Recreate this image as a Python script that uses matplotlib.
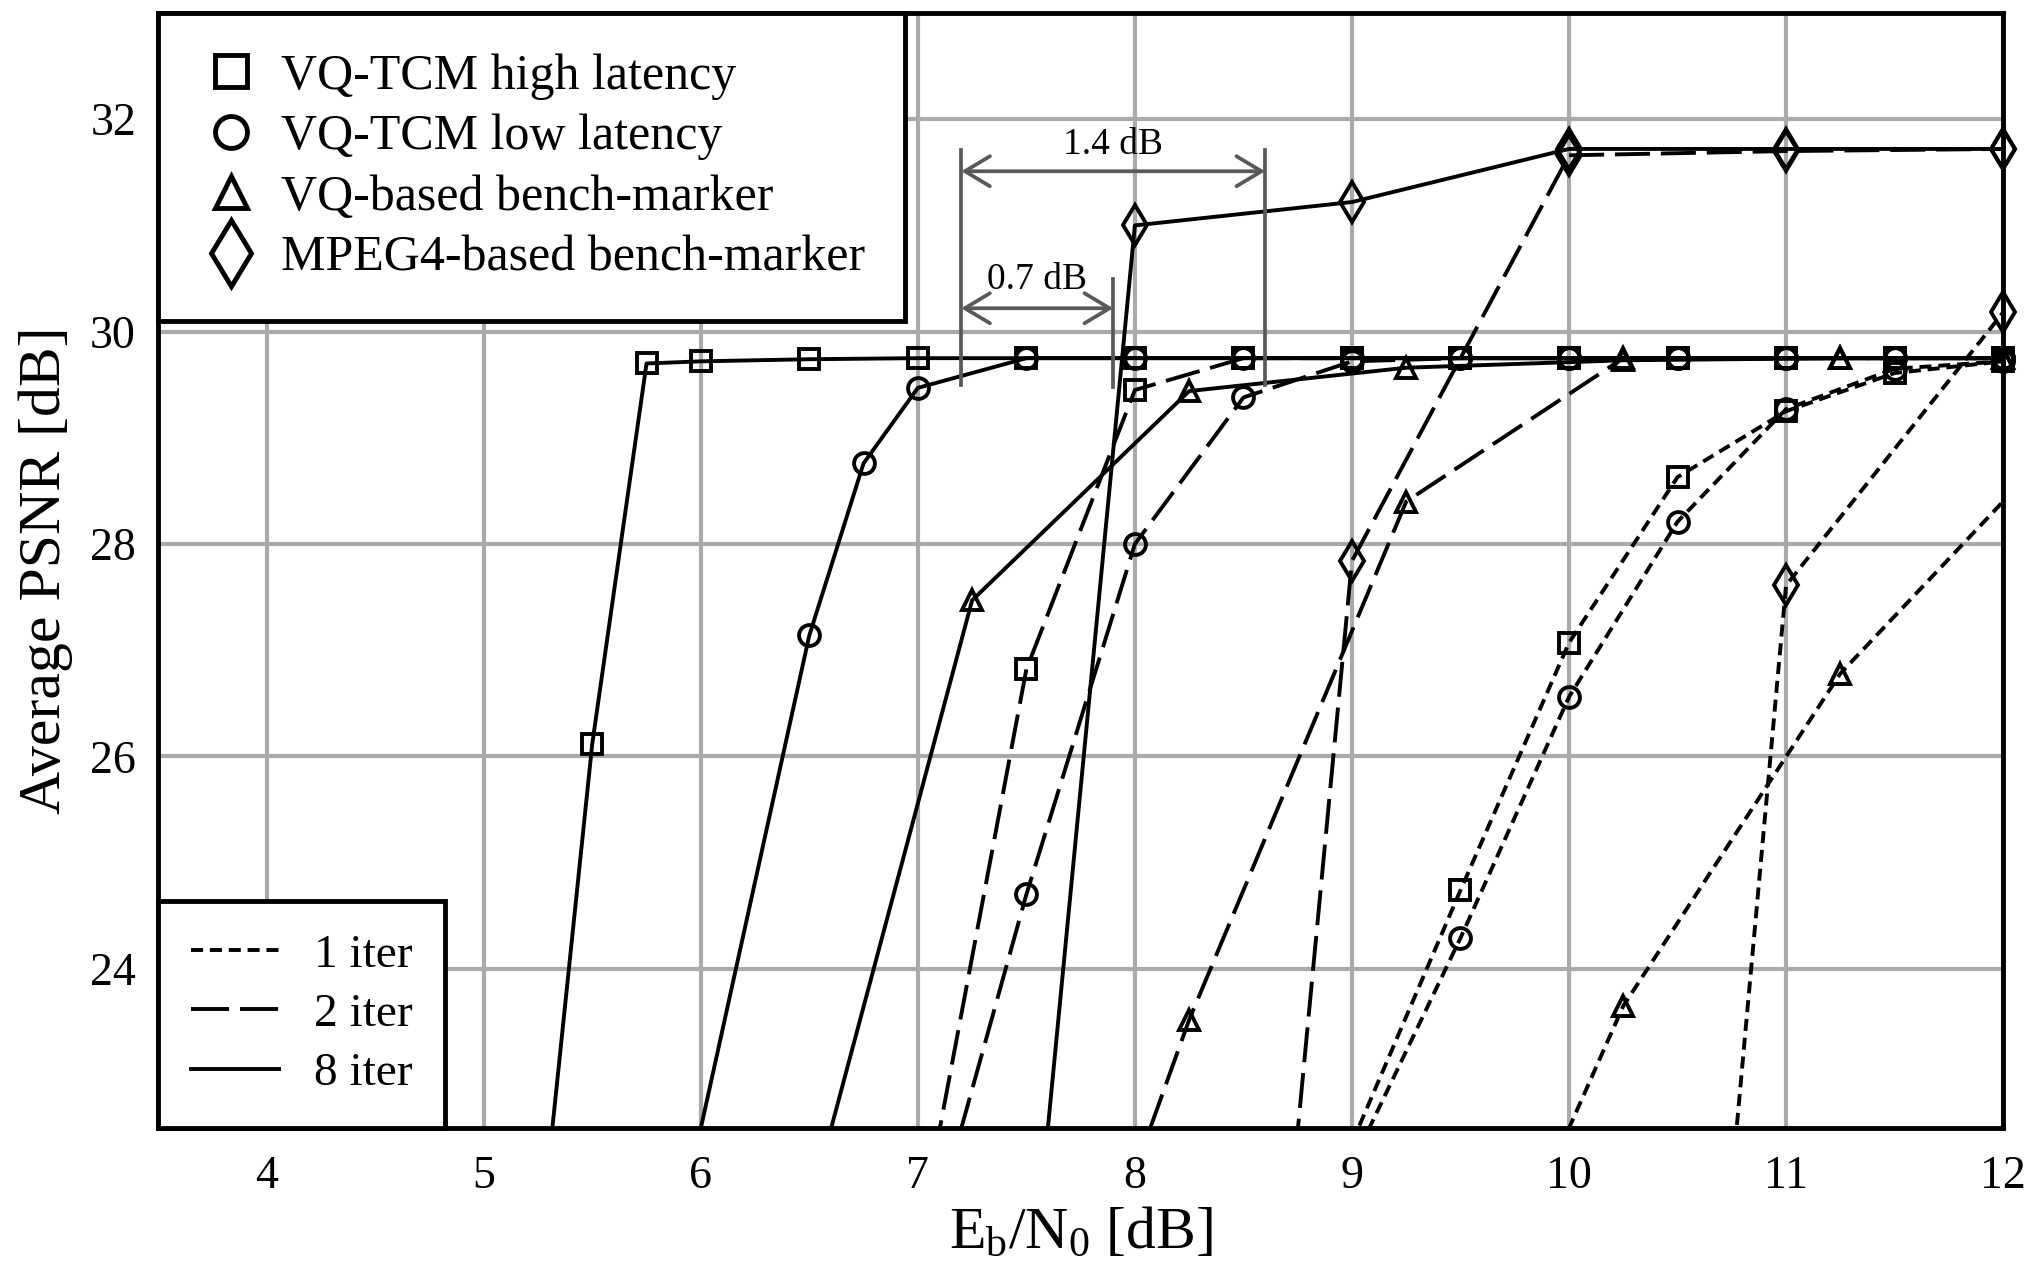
import numpy as np
import matplotlib
matplotlib.use('Agg')
import matplotlib.pyplot as plt
from matplotlib.lines import Line2D

plt.rcParams['font.family'] = ['Liberation Serif', 'DejaVu Serif']
plt.rcParams['mathtext.fontset'] = 'custom'
plt.rcParams['mathtext.rm'] = 'Liberation Serif'
plt.rcParams['mathtext.it'] = 'Liberation Serif:italic'

# ---- data (Eb/N0 in dB, average PSNR in dB) ----
# 8 iterations (solid)
hl8_x = [5.25, 5.5, 5.75, 6.0, 6.5, 7.0, 7.5, 8.0, 8.5, 9.0, 9.5, 10.0, 10.5, 11.0, 11.5, 12.0]
hl8_y = [21.2, 26.12, 29.7, 29.72, 29.74, 29.75, 29.75, 29.75, 29.75, 29.75, 29.75, 29.75, 29.75, 29.75, 29.75, 29.75]
ll8_x = [5.9, 6.5, 6.75, 7.0, 7.5, 8.0, 8.5, 9.0, 9.5, 10.0, 10.5, 11.0, 11.5, 12.0]
ll8_y = [21.57, 27.14, 28.76, 29.47, 29.75, 29.75, 29.75, 29.75, 29.75, 29.75, 29.75, 29.75, 29.75, 29.75]
vq8_x = [6.5, 7.25, 8.25, 9.25, 10.25, 11.25, 12.0]
vq8_y = [21.73, 27.47, 29.44, 29.66, 29.73, 29.75, 29.75]
mp8_x = [7.5, 8.0, 9.0, 10.0, 11.0, 12.0]
mp8_y = [20.4, 31.0, 31.22, 31.72, 31.72, 31.72]

# 2 iterations (dashed)
hl2_x = [7.0, 7.5, 8.0, 8.5, 9.0, 9.5, 10.0, 10.5, 11.0, 11.5, 12.0]
hl2_y = [21.4, 26.82, 29.45, 29.75, 29.75, 29.75, 29.75, 29.75, 29.75, 29.75, 29.75]
ll2_x = [7.0, 7.5, 8.0, 8.5, 9.0, 9.5, 10.0, 10.5, 11.0, 11.5, 12.0]
ll2_y = [21.03, 24.7, 28.0, 29.38, 29.72, 29.75, 29.75, 29.75, 29.75, 29.75, 29.75]
vq2_x = [8.0, 8.25, 9.25, 10.25, 11.25, 12.0]
vq2_y = [22.1, 23.52, 28.4, 29.75, 29.75, 29.75]
mp2_x = [8.7, 9.0, 10.0, 11.0, 12.0]
mp2_y = [21.4, 27.84, 31.66, 31.7, 31.72]

# 1 iteration (dotted)
hl1_x = [9.0, 9.5, 10.0, 10.5, 11.0, 11.5, 12.0]
hl1_y = [22.36, 24.74, 27.07, 28.63, 29.25, 29.61, 29.72]
ll1_x = [9.0, 9.5, 10.0, 10.5, 11.0, 11.5, 12.0]
ll1_y = [22.16, 24.29, 26.56, 28.21, 29.27, 29.65, 29.72]
vq1_x = [9.75, 10.25, 11.25, 12.25]
vq1_y = [21.35, 23.65, 26.78, 28.94]
mp1_x = [10.75, 11.0, 12.0]
mp1_y = [22.0, 27.61, 30.18]

XMIN, XMAX, YMIN, YMAX = 3.5, 12, 22.5, 33

fig = plt.figure(figsize=(20.33, 12.63), dpi=100)
ax = fig.add_axes([0.0778, 0.1068, 0.9075, 0.8829])

LW = 2.8
styles = {'1': (0, (3.1, 1.75)), '2': (0, (9, 2.8)), '8': '-'}
series = [
    (hl8_x, hl8_y, 's', '8'), (ll8_x, ll8_y, 'o', '8'), (vq8_x, vq8_y, '^', '8'), (mp8_x, mp8_y, 'd', '8'),
    (hl2_x, hl2_y, 's', '2'), (ll2_x, ll2_y, 'o', '2'), (vq2_x, vq2_y, '^', '2'), (mp2_x, mp2_y, 'd', '2'),
    (hl1_x, hl1_y, 's', '1'), (ll1_x, ll1_y, 'o', '1'), (vq1_x, vq1_y, '^', '1'), (mp1_x, mp1_y, 'd', '1'),
]
msizes = {'s': 15, 'o': 15, '^': 15, 'd': 20}

for xs, ys, mk, it in series:
    xs = np.array(xs)
    ys = np.array(ys)
    ax.plot(xs, ys, color='black', lw=LW, linestyle=styles[it], zorder=3)
    # markers drawn without clipping, only those inside the plotted range
    keep = (ys >= YMIN) & (xs <= XMAX)
    ax.plot(xs[keep], ys[keep], linestyle='none', marker=mk, ms=msizes[mk], mfc='none',
            mec='black', mew=2.8, clip_on=False, zorder=4)

ax.set_xlim(XMIN, XMAX)
ax.set_ylim(YMIN, YMAX)
ax.set_xticks(np.arange(4, 13, 1))
ax.set_yticks(np.arange(24, 33, 2))
ax.grid(True, color='#aaaaaa', lw=3, zorder=0)
ax.tick_params(length=0, labelsize=33)
ax.tick_params(axis='y', pad=16)
ax.tick_params(axis='x', pad=20)
for sp in ax.spines.values():
    sp.set_linewidth(3.5)
    sp.set_zorder(5)

ax.set_xlabel(r'$\mathrm{E_b/N_0}$ [dB]', fontsize=43, labelpad=6)
ax.set_ylabel('Average PSNR [dB]', fontsize=43, labelpad=12)

# dB gap annotations
gcol = '#595959'
ax.plot([7.2, 7.2], [29.5, 31.71], color=gcol, lw=2.7, zorder=6)
ax.plot([8.6, 8.6], [29.5, 31.71], color=gcol, lw=2.7, zorder=6)
ax.plot([7.9, 7.9], [29.48, 30.5], color=gcol, lw=2.7, zorder=6)
arr = dict(arrowstyle='<->,head_length=0.6,head_width=0.36', color=gcol, lw=2.7,
           shrinkA=0, shrinkB=0, mutation_scale=30)
ax.annotate('', xy=(8.6, 31.51), xytext=(7.2, 31.51), arrowprops=arr, zorder=6)
ax.annotate('', xy=(7.9, 30.22), xytext=(7.2, 30.22), arrowprops=arr, zorder=6)
ax.text(7.9, 31.6, '1.4 dB', ha='center', va='bottom', fontsize=27, zorder=6)
ax.text(7.55, 30.33, '0.7 dB', ha='center', va='bottom', fontsize=27, zorder=6)

# legends
mk_handles = [Line2D([], [], ls='none', marker=m, ms=s, mfc='none', mec='black', mew=3.5)
              for m, s in [('s', 23), ('o', 23), ('^', 23), ('d', 34)]]
mk_labels = ['VQ-TCM high latency', 'VQ-TCM low latency', 'VQ-based bench-marker',
             'MPEG4-based bench-marker']
leg1 = ax.legend(mk_handles, mk_labels, loc='upper left', bbox_to_anchor=(0, 1),
                 borderaxespad=0, fontsize=36, fancybox=False, framealpha=1,
                 edgecolor='black', handlelength=1.3, handletextpad=0.35,
                 labelspacing=0.28, borderpad=0.8)
leg1.get_frame().set_linewidth(3.5)
leg1.set_zorder(7)
ax.add_artist(leg1)

leg_styles = [(0, (3.1, 1.75)), (0, (9.8, 2.8)), '-']
ls_handles = [Line2D([], [], color='black', lw=LW, linestyle=s) for s in leg_styles]
leg2 = ax.legend(ls_handles, ['1 iter', '2 iter', '8 iter'], loc='lower left',
                 bbox_to_anchor=(0, 0), borderaxespad=0, fontsize=34, fancybox=False,
                 framealpha=1, edgecolor='black', handlelength=1.85, handletextpad=0.74,
                 labelspacing=0.34, borderpad=0.7)
leg2.get_frame().set_linewidth(3.5)
leg2.set_zorder(7)

fig.savefig('out.png', dpi=100)
